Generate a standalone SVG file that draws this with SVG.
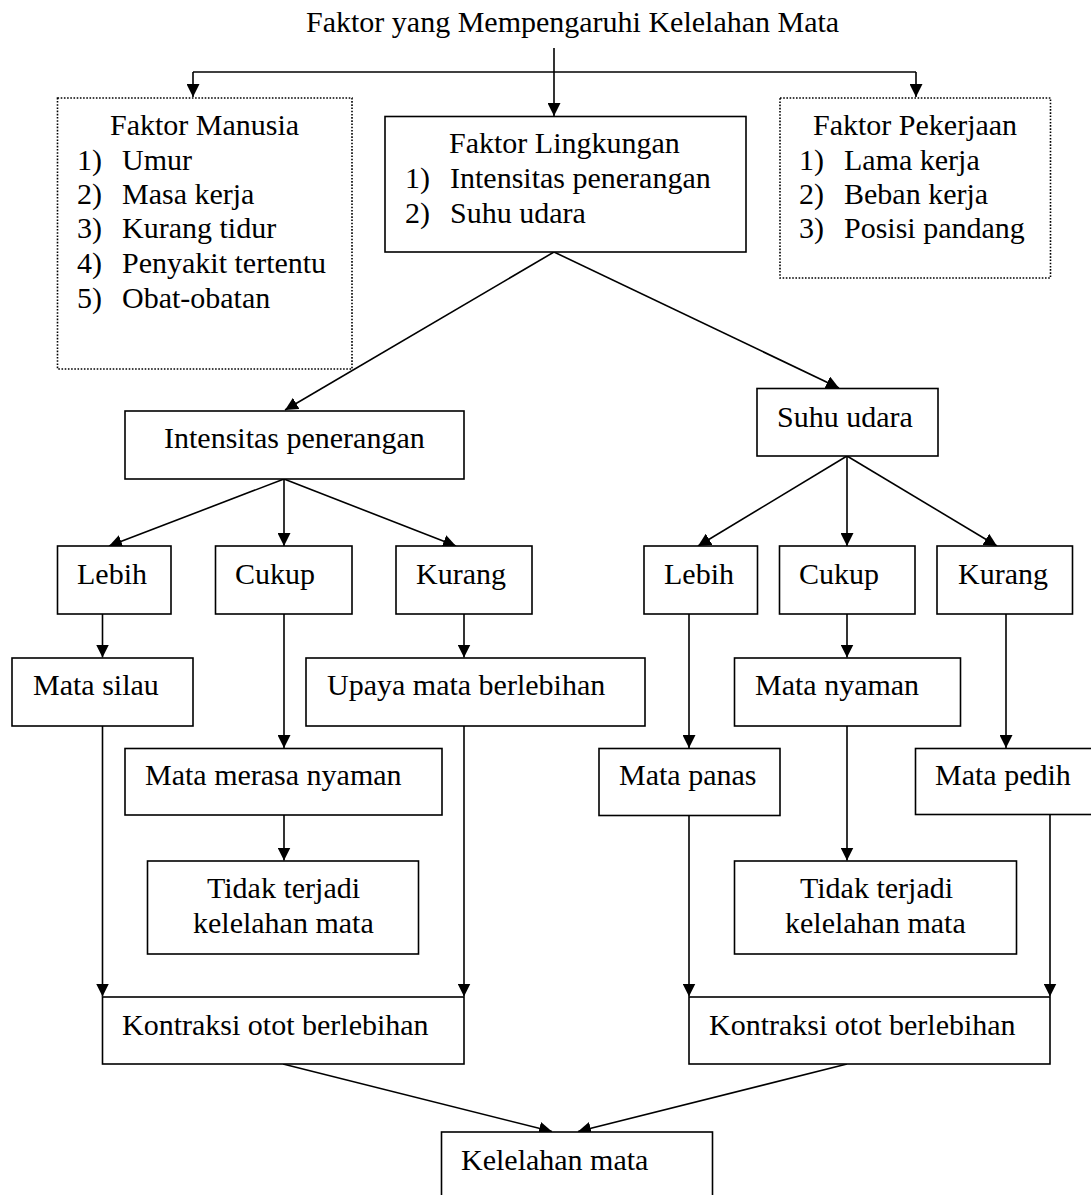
<svg xmlns="http://www.w3.org/2000/svg" width="1091" height="1195" viewBox="0 0 1091 1195">
<defs>
<marker id="arr" markerWidth="13" markerHeight="13" refX="13" refY="6.5" orient="auto" markerUnits="userSpaceOnUse">
<path d="M0,0 L13,6.5 L0,13 z" fill="#000"/>
</marker>
<style>
text{font-family:"Liberation Serif","Times New Roman",serif;font-size:30px;fill:#000}
.box{fill:#fff;stroke:#000;stroke-width:1.6}
.dot{fill:#fff;stroke:#000;stroke-width:1.6;stroke-dasharray:1.6 1.6}
.c{fill:none;stroke:#000;stroke-width:1.6}
.a{fill:none;stroke:#000;stroke-width:1.6;marker-end:url(#arr)}
</style>
</defs>
<rect width="1091" height="1195" fill="#fff"/>

<g id="title"><text x="306" y="32">Faktor yang Mempengaruhi Kelelahan Mata</text></g>

<g id="connectors">
<path class="c" d="M193,72 L916,72"/>
<path class="a" d="M193,72 L193,97"/>
<path class="a" d="M554,48 L554,116"/>
<path class="a" d="M916,72 L916,97"/>
<path class="a" d="M554,252 L285,410"/>
<path class="a" d="M554,252 L839,388"/>
<path class="a" d="M284,479 L109,546"/>
<path class="a" d="M284,479 L284,546"/>
<path class="a" d="M284,479 L456,546"/>
<path class="a" d="M847,456 L698,546"/>
<path class="a" d="M847,456 L847,546"/>
<path class="a" d="M847,456 L997,546"/>
<path class="a" d="M102.5,614 L102.5,657.5"/>
<path class="a" d="M464,614 L464,657.5"/>
<path class="a" d="M284,614 L284,748"/>
<path class="a" d="M284,815 L284,860.5"/>
<path class="a" d="M102.5,726 L102.5,996.5"/>
<path class="a" d="M464,726 L464,996.5"/>
<path class="a" d="M847,614 L847,657.5"/>
<path class="a" d="M689,614 L689,748"/>
<path class="a" d="M1006,614 L1006,748"/>
<path class="a" d="M847,726 L847,860.5"/>
<path class="a" d="M689,815 L689,996.5"/>
<path class="a" d="M1050,814 L1050,996.5"/>
<path class="a" d="M283,1064 L552,1131.5"/>
<path class="a" d="M847,1064 L578,1131.5"/>
</g>

<g id="faktor-manusia">
<rect class="dot" x="57.5" y="98" width="294.5" height="271"/>
<text x="110" y="135">Faktor Manusia</text>
<text x="77" y="170">1)</text><text x="122" y="170">Umur</text>
<text x="77" y="204">2)</text><text x="122" y="204">Masa kerja</text>
<text x="77" y="238">3)</text><text x="122" y="238">Kurang tidur</text>
<text x="77" y="273">4)</text><text x="122" y="273">Penyakit tertentu</text>
<text x="77" y="308">5)</text><text x="122" y="308">Obat-obatan</text>
</g>

<g id="faktor-lingkungan">
<rect class="box" x="385" y="116.5" width="361" height="135.5"/>
<text x="449" y="153">Faktor Lingkungan</text>
<text x="405" y="188">1)</text><text x="450" y="188">Intensitas penerangan</text>
<text x="405" y="223">2)</text><text x="450" y="223">Suhu udara</text>
</g>

<g id="faktor-pekerjaan">
<rect class="dot" x="780" y="98" width="270.5" height="180"/>
<text x="813" y="135">Faktor Pekerjaan</text>
<text x="799" y="170">1)</text><text x="844" y="170">Lama kerja</text>
<text x="799" y="204">2)</text><text x="844" y="204">Beban kerja</text>
<text x="799" y="238">3)</text><text x="844" y="238">Posisi pandang</text>
</g>

<g id="intensitas-penerangan">
<rect class="box" x="125" y="411" width="339" height="68"/>
<text x="164" y="448">Intensitas penerangan</text>
</g>

<g id="suhu-udara">
<rect class="box" x="757" y="388.5" width="181" height="67.5"/>
<text x="777" y="427">Suhu udara</text>
</g>

<g id="lebih-1">
<rect class="box" x="57.5" y="546" width="113.5" height="68"/>
<text x="77" y="584">Lebih</text>
</g>
<g id="cukup-1">
<rect class="box" x="215.5" y="546" width="136.5" height="68"/>
<text x="235" y="584">Cukup</text>
</g>
<g id="kurang-1">
<rect class="box" x="396" y="546" width="136" height="68"/>
<text x="416" y="584">Kurang</text>
</g>

<g id="lebih-2">
<rect class="box" x="644" y="546" width="113.5" height="68"/>
<text x="664" y="584">Lebih</text>
</g>
<g id="cukup-2">
<rect class="box" x="779.5" y="546" width="135.5" height="68"/>
<text x="799" y="584">Cukup</text>
</g>
<g id="kurang-2">
<rect class="box" x="937" y="546" width="135.5" height="68"/>
<text x="958" y="584">Kurang</text>
</g>

<g id="mata-silau">
<rect class="box" x="12" y="658" width="181" height="68"/>
<text x="33" y="695">Mata silau</text>
</g>
<g id="upaya-mata">
<rect class="box" x="306" y="658" width="339" height="68"/>
<text x="327" y="695">Upaya mata berlebihan</text>
</g>
<g id="mata-merasa-nyaman">
<rect class="box" x="125" y="748.5" width="317" height="66.5"/>
<text x="145" y="785">Mata merasa nyaman</text>
</g>
<g id="tidak-terjadi-1">
<rect class="box" x="147.5" y="861" width="271" height="93"/>
<text x="207" y="898">Tidak terjadi</text>
<text x="193" y="933">kelelahan mata</text>
</g>
<g id="kontraksi-1">
<rect class="box" x="102.5" y="997" width="361.5" height="67"/>
<text x="122" y="1035">Kontraksi otot berlebihan</text>
</g>

<g id="mata-nyaman">
<rect class="box" x="734.5" y="658" width="226" height="68"/>
<text x="755" y="695">Mata nyaman</text>
</g>
<g id="mata-panas">
<rect class="box" x="599" y="748.5" width="181" height="67"/>
<text x="619" y="785">Mata panas</text>
</g>
<g id="mata-pedih">
<rect class="box" x="915.5" y="748.5" width="190" height="66"/>
<text x="935" y="785">Mata pedih</text>
</g>
<g id="tidak-terjadi-2">
<rect class="box" x="734.5" y="861" width="282" height="93"/>
<text x="800" y="898">Tidak terjadi</text>
<text x="785" y="933">kelelahan mata</text>
</g>
<g id="kontraksi-2">
<rect class="box" x="689" y="997" width="361" height="67"/>
<text x="709" y="1035">Kontraksi otot berlebihan</text>
</g>

<g id="kelelahan-mata">
<rect class="box" x="441.5" y="1132" width="271" height="80"/>
<text x="461" y="1170">Kelelahan mata</text>
</g>
</svg>
